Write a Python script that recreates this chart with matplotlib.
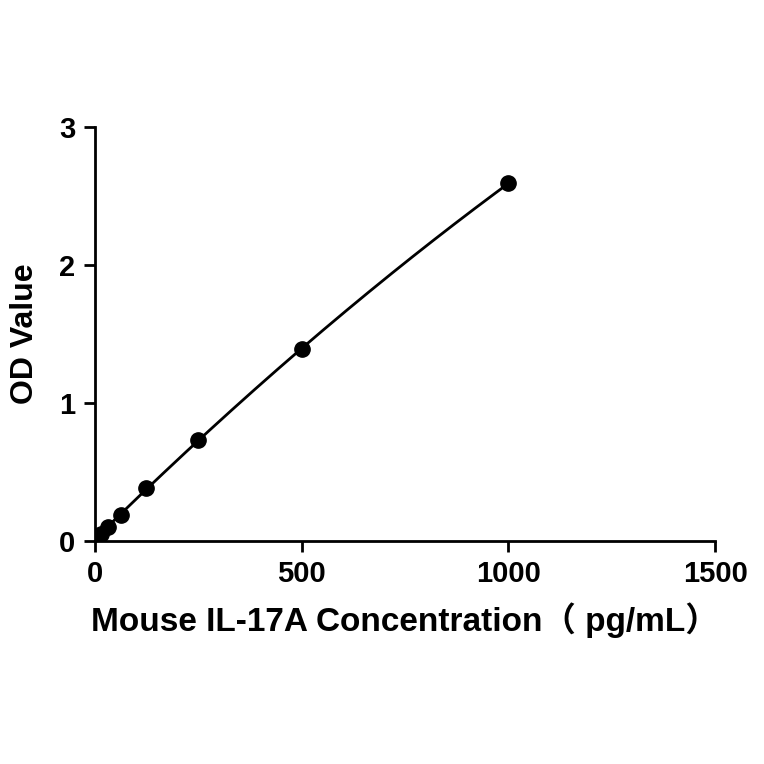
import matplotlib
matplotlib.use("Agg")
import matplotlib.pyplot as plt
import numpy as np

plt.rcParams['font.family'] = ['Liberation Sans', 'Noto Sans CJK SC']
plt.rcParams['font.weight'] = 'bold'

conc = [0, 15.6, 31.25, 62.5, 125, 250, 500, 1000]
od = [0.02, 0.05, 0.10, 0.19, 0.38, 0.73, 1.39, 2.59]
xticks = [0, 500, 1000, 1500]
yticks = [0, 1, 2, 3]

fig = plt.figure(figsize=(7.64, 7.64), dpi=100)
ax = fig.add_axes([0.124, 0.292, 0.812, 0.542])
coef = np.polyfit(conc, od, 2)
xs = np.linspace(0, max(conc), 200)
ax.plot(xs, np.polyval(coef, xs), color='black', lw=2)
ax.plot(conc, od, 'o', color='black', ms=11)
ax.set_xlim(0, 1500)
ax.set_ylim(0, 3)
ax.set_xticks(xticks)
ax.set_yticks(yticks)
for s in ['top', 'right']:
    ax.spines[s].set_visible(False)
for s in ['left', 'bottom']:
    ax.spines[s].set_linewidth(2)
ax.tick_params(width=2, length=8, labelsize=21, pad=6)
ax.set_xlabel('Mouse IL-17A Concentration（ pg/mL）', fontsize=24, fontweight='bold', labelpad=10)
ax.set_ylabel('OD Value', fontsize=23, fontweight='bold', labelpad=14)
fig.savefig('out.png', dpi=100)
